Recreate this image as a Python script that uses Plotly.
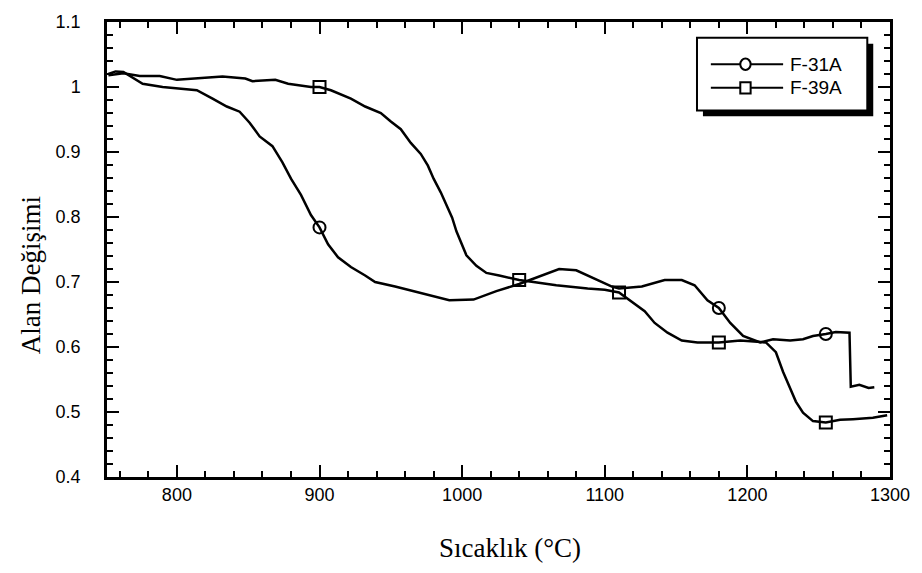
import plotly.graph_objects as go

# F-31A (circle markers)
f31_x = [752, 757, 762.5, 770, 776, 790, 802, 814, 825, 835, 844, 851, 858, 867, 874, 880, 887, 894,
         900, 906, 913, 922, 932, 939, 953, 971, 991, 1008, 1024, 1040, 1054, 1066, 1068, 1080, 1093,
         1105, 1110, 1126, 1142, 1154, 1163, 1172, 1180, 1188, 1197, 1209, 1218, 1230, 1239, 1246,
         1255, 1262, 1271.6, 1272.5, 1278.5, 1285, 1289]
f31_y = [1.020, 1.024, 1.023, 1.013, 1.005, 1.000, 0.997, 0.995, 0.982, 0.970, 0.962, 0.945, 0.924,
         0.909, 0.884, 0.859, 0.834, 0.803, 0.784, 0.758, 0.738, 0.723, 0.710, 0.700, 0.693, 0.683,
         0.672, 0.673, 0.686, 0.697, 0.708, 0.718, 0.720, 0.718, 0.705, 0.693, 0.690, 0.693, 0.703,
         0.703, 0.695, 0.672, 0.660, 0.637, 0.617, 0.607, 0.612, 0.610, 0.612, 0.617, 0.620, 0.623,
         0.622, 0.539, 0.542, 0.537, 0.538]
f31_marker_x = [900, 1180, 1255]

# F-39A (square markers)
f39_x = [752, 762.5, 774, 788, 800, 832, 848, 853, 869, 878, 894, 900, 908, 922, 932, 943, 950, 957,
         964, 971, 976, 980, 985, 989, 993, 996, 1000, 1003, 1010, 1017, 1026, 1040, 1050, 1066,
         1088, 1100, 1110, 1119, 1128, 1135, 1144, 1154, 1165, 1180, 1195, 1213, 1220, 1225, 1230,
         1234, 1239, 1246, 1255, 1265, 1274, 1288, 1298]
f39_y = [1.018, 1.021, 1.017, 1.017, 1.011, 1.016, 1.013, 1.009, 1.011, 1.005, 1.000, 1.000, 0.995,
         0.982, 0.970, 0.960, 0.947, 0.935, 0.914, 0.897, 0.879, 0.859, 0.838, 0.819, 0.799, 0.778,
         0.758, 0.741, 0.725, 0.714, 0.710, 0.703, 0.700, 0.695, 0.690, 0.688, 0.684, 0.670, 0.655,
         0.637, 0.622, 0.610, 0.607, 0.607, 0.610, 0.607, 0.592, 0.562, 0.537, 0.516, 0.499, 0.486,
         0.484, 0.488, 0.489, 0.491, 0.495]
f39_marker_x = [900, 1040, 1110, 1180, 1255]

series_names = ["F-31A", "F-39A"]
x_tick0, x_dtick, x_minor = 800, 100, 20
y_tick0, y_dtick, y_minor = 0.4, 0.1, 0.02


def pick(xs, ys, sel):
    idx = [xs.index(v) for v in sel]
    return [xs[i] for i in idx], [ys[i] for i in idx]


fig = go.Figure()
line = dict(color="black", width=2.5)

for name, xs, ys, mx, sym in [(series_names[0], f31_x, f31_y, f31_marker_x, "circle-open"),
                              (series_names[1], f39_x, f39_y, f39_marker_x, "square-open")]:
    fig.add_trace(go.Scatter(x=xs, y=ys, mode="lines", line=line, showlegend=False,
                             name=name, hoverinfo="skip"))
    px_, py_ = pick(xs, ys, mx)
    fig.add_trace(go.Scatter(x=px_, y=py_, mode="markers", showlegend=False, name=name,
                             marker=dict(symbol=sym, size=12, color="black",
                                         line=dict(color="black", width=2))))

tickfont = dict(family="Liberation Sans, Arial", size=18, color="black")

fig.update_xaxes(range=[751, 1300], tick0=x_tick0, dtick=x_dtick,
                 showline=True, linecolor="black", linewidth=2.5, mirror="ticks",
                 ticks="inside", tickcolor="black", tickwidth=2, ticklen=12,
                 showgrid=False, zeroline=False, tickfont=tickfont,
                 minor=dict(tick0=x_tick0, dtick=x_minor, ticks="inside", ticklen=6,
                            tickwidth=1.5, tickcolor="black", showgrid=False))
fig.update_yaxes(range=[0.4, 1.1], tick0=y_tick0, dtick=y_dtick,
                 ticksuffix="\u00a0\u00a0\u00a0\u00a0",
                 showline=True, linecolor="black", linewidth=2.5, mirror="ticks",
                 ticks="inside", tickcolor="black", tickwidth=2, ticklen=12,
                 showgrid=False, zeroline=False, tickfont=tickfont,
                 minor=dict(tick0=y_tick0, dtick=y_minor, ticks="inside", ticklen=6,
                            tickwidth=1.5, tickcolor="black", showgrid=False))

# ---- manual legend (paper coordinates) ----
bx0, bx1, by0, by1 = 0.7535, 0.971, 0.8056, 0.9654
sh = dict(dx=0.0076, dy=0.013)
fig.add_shape(type="rect", xref="paper", yref="paper", x0=bx0 + sh["dx"], x1=bx1 + sh["dx"],
              y0=by0 - sh["dy"], y1=by1 - sh["dy"], fillcolor="black", line=dict(width=0),
              layer="above", opacity=1)
fig.add_shape(type="rect", xref="paper", yref="paper", x0=bx0, x1=bx1, y0=by0, y1=by1,
              fillcolor="white", line=dict(color="black", width=2), layer="above", opacity=1)
rows = [0.9071, 0.8553]
lx0, lx1, mxc = 0.7712, 0.8635, 0.8154
mw, mh = 0.0066, 0.0125
for i, (name, ry) in enumerate(zip(series_names, rows)):
    fig.add_shape(type="line", xref="paper", yref="paper", x0=lx0, x1=lx1, y0=ry, y1=ry,
                  line=dict(color="black", width=2), layer="above", opacity=1)
    fig.add_shape(type="circle" if i == 0 else "rect", xref="paper", yref="paper",
                  x0=mxc - mw, x1=mxc + mw, y0=ry - mh, y1=ry + mh, fillcolor="white",
                  line=dict(color="black", width=2), layer="above", opacity=1)
    fig.add_annotation(x=0.8698, y=ry, xref="paper", yref="paper", text=name, showarrow=False,
                       xanchor="left", yanchor="middle",
                       font=dict(family="Liberation Sans, Arial", size=19, color="black"))

titlefont = dict(family="Liberation Serif, Times New Roman", size=27, color="black")
fig.add_annotation(x=0.515, y=-0.155, xref="paper", yref="paper", text="Sıcaklık (°C)",
                   showarrow=False, xanchor="center", yanchor="middle", font=titlefont)
fig.add_annotation(x=-0.096, y=0.443, xref="paper", yref="paper", text="Alan Değişimi",
                   showarrow=False, xanchor="center", yanchor="middle", textangle=-90,
                   font=titlefont)

fig.update_layout(
    template="simple_white",
    width=922, height=573,
    margin=dict(l=107, r=24, t=14, b=96),
    paper_bgcolor="white", plot_bgcolor="white",
    showlegend=False,
)

fig.write_html("out.html", config={"displayModeBar": False},
               post_script="document.body.style.margin='0';")
